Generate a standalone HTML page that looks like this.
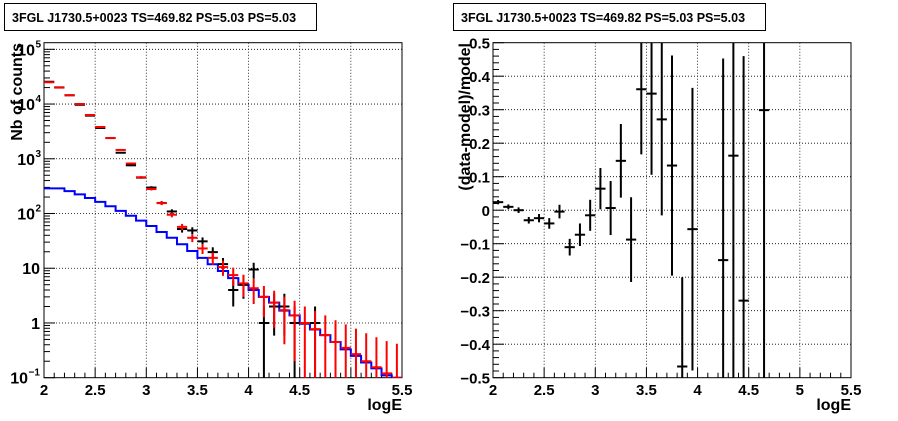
<!DOCTYPE html>
<html><head><meta charset="utf-8"><style>
html,body{margin:0;background:#fff;overflow:hidden;width:898px;height:421px;}
svg{display:block;font-family:"Liberation Sans",sans-serif;font-weight:bold;}
</style></head><body>
<svg id="c" width="898" height="421" viewBox="0 0 898 421" xmlns="http://www.w3.org/2000/svg">
<defs>
<clipPath id="clipL"><rect x="44" y="42.7" width="358" height="335"/></clipPath>
<clipPath id="clipR"><rect x="493" y="42.7" width="358" height="335"/></clipPath>
</defs>
<g>
<rect x="4.5" y="3.5" width="312" height="27" fill="#fff" stroke="#000"/>
<text x="12" y="22" font-size="12.5">3FGL J1730.5+0023 TS=469.82 PS=5.03 PS=5.03</text>
</g>
<g>
<rect x="453.5" y="3.5" width="312" height="27" fill="#fff" stroke="#000"/>
<text x="461" y="22" font-size="12.5">3FGL J1730.5+0023 TS=469.82 PS=5.03 PS=5.03</text>
</g>
<g id="L"></g>
<g id="R"></g>
</svg>
<script>
const binCenters=[2.05,2.15,2.25,2.35,2.45,2.55,2.65,2.75,2.85,2.95,3.05,3.15,3.25,3.35,3.45,3.55,3.65,3.75,3.85,3.95,4.05,4.15,4.25,4.35,4.45,4.55,4.65,4.75,4.85,4.95,5.05,5.15,5.25,5.35,5.45];
const dataCounts=[25600,20200,14500,9700,6150,3650,2390,1290,760,453,298,156,109,52,49,31,19.7,11.9,4,5,9.5,1,2,2,1,0,1,0,0,0,0,0,0,0,0];
const modelCounts=[25000,20000,14500,10000,6300,3800,2400,1450,820,460,280,155,95,57,36,23,15.5,10.5,7.5,5.3,4.3,3.0,2.35,1.72,1.37,1.0,0.77,0.6,0.45,0.35,0.27,0.2,0.155,0.12,0.1];
const blueCounts=[288,288,257,224,192,163,136,112,91,74,59,46,36,27.5,20.7,15.5,11.8,8.9,6.6,5.0,4.0,3.0,2.35,1.68,1.38,0.97,0.76,0.60,0.45,0.33,0.25,0.19,0.148,0.11,0.1];
const xTicks=["2","2.5","3","3.5","4","4.5","5","5.5"];
const yLogBase=["10","1","10","10","10","10","10"];
const yLogExp=["\u22121","","","2","3","4","5"];
const yResTicks=["\u22120.5","\u22120.4","\u22120.3","\u22120.2","\u22120.1","0","0.1","0.2","0.3","0.4","0.5"];
const NS="http://www.w3.org/2000/svg";
function mk(p,tag,at){const e=document.createElementNS(NS,tag);for(const k in at)e.setAttribute(k,at[k]);p.appendChild(e);return e;}
const XMIN=2,XMAX=5.5,TOP=42.7,BOT=377.7;
function xs(x0){return v=>x0+(v-XMIN)/(XMAX-XMIN)*358;}
const xL=xs(44),xR=xs(493);
const yL=v=>377.7-(Math.log10(v)+1)*54.73;
const yR=v=>377.7-(v+0.5)*335;

function frameAxes(g,x0,yfun,isLog){
  const x=x0===44?xL:xR;
  for(let i=1;i<xTicks.length-1;i++){const px=x(2+0.5*i);
    const gl=mk(g,'line',{x1:px,x2:px,y1:TOP,y2:BOT,stroke:'#000','stroke-dasharray':'1,2','stroke-width':0.8});
    }
  if(isLog){for(let d=1;d<yLogBase.length;d++){const py=yfun(Math.pow(10,d-1));
      const gl=mk(g,'line',{x1:x0,x2:x0+358,y1:py,y2:py,stroke:'#000','stroke-dasharray':'1,2','stroke-width':0.8});
      }
  } else {for(let d=1;d<yResTicks.length-1;d++){const py=yfun(-0.5+0.1*d);
      const gl=mk(g,'line',{x1:x0,x2:x0+358,y1:py,y2:py,stroke:'#000','stroke-dasharray':'1,2','stroke-width':0.8});
      }}
  const fr=mk(g,'rect',{x:x0,y:TOP,width:358,height:335,fill:'none',stroke:'#000','stroke-width':1});
  
  for(let k=0;k<=35;k++){const px=x(2+k*0.1);const len=(k%5===0)?10:5;
    mk(g,'line',{x1:px,x2:px,y1:BOT,y2:BOT-len,stroke:'#000'});}
  xTicks.forEach((t,i)=>{const tx=mk(g,'text',{x:x(2+0.5*i),y:395,'font-size':15,'text-anchor':'middle'});tx.textContent=t;
    });
  const xt=mk(g,'text',{x:x0+358,y:410,'font-size':16,'text-anchor':'end'});xt.textContent='logE';
  
  if(isLog){
    for(let d=0;d<yLogBase.length;d++){const base=Math.pow(10,d-1);
      mk(g,'line',{x1:x0,x2:x0+11,y1:yfun(base),y2:yfun(base),stroke:'#000'});
      for(let m=2;m<=9;m++){const py=yfun(base*m);if(py<TOP)break;mk(g,'line',{x1:x0,x2:x0+6,y1:py,y2:py,stroke:'#000'});}
      const hasExp=yLogExp[d]!=='';
      const tx=mk(g,'text',{x:hasExp?x0-(yLogExp[d].length>1?16:9):x0-4,y:yfun(base)+6,'font-size':16,'text-anchor':'end'});
      tx.textContent=yLogBase[d];
      
      if(hasExp){const ex=mk(g,'text',{x:tx.getAttribute('x')*1+0.5,y:yfun(base)-2,'font-size':10,'text-anchor':'start'});ex.textContent=yLogExp[d];
        }
    }
  } else {
    for(let k=0;k<=50;k++){const py=yfun(-0.5+k*0.02);mk(g,'line',{x1:x0,x2:x0+(k%5===0?11:6),y1:py,y2:py,stroke:'#000'});}
    yResTicks.forEach((t,i)=>{const tx=mk(g,'text',{x:x0-3,y:yfun(-0.5+0.1*i)+6,'font-size':15,'text-anchor':'end'});tx.textContent=t;
      });
  }
}
const L=document.getElementById('L'),R=document.getElementById('R');
frameAxes(L,44,yL,true);
frameAxes(R,493,yR,false);
let yt=mk(L,'text',{transform:'translate(22,43) rotate(-90)','font-size':16,'text-anchor':'end'});yt.textContent='Nb of counts';

yt=mk(R,'text',{transform:'translate(470,43) rotate(-90)','font-size':16,'text-anchor':'end'});yt.textContent='(data-model)/model';


const gL=mk(L,'g',{'clip-path':'url(#clipL)'});
const gR=mk(R,'g',{'clip-path':'url(#clipR)'});
let d='';
blueCounts.forEach((v,i)=>{const a=xL(binCenters[i]-0.05),b=xL(binCenters[i]+0.05),py=yL(v);d+=(i===0?'M':'L')+a+','+py+'L'+b+','+py;});
const bl=mk(gL,'path',{d:d,fill:'none',stroke:'#0000ff','stroke-width':2});

function cross(g,x,xa,xb,y,ylo,yhi,col,name){
  const e=mk(g,'g',{stroke:col,'stroke-width':2});
  
  mk(e,'line',{x1:xa,x2:xb,y1:y,y2:y});mk(e,'line',{x1:x,x2:x,y1:ylo,y2:yhi});
}
dataCounts.forEach((v,i)=>{if(v<=0)return;const c=binCenters[i],s=Math.sqrt(v);
  const lo=v-s>0?yL(v-s):BOT+5;
  cross(gL,xL(c),xL(c-0.05),xL(c+0.05),yL(v),lo,yL(v+s),'#000','data-point');});
modelCounts.forEach((v,i)=>{const c=binCenters[i],s=Math.sqrt(v);
  const lo=v-s>0?yL(v-s):BOT+5;
  cross(gL,xL(c),xL(c-0.05),xL(c+0.05),yL(v),lo,yL(v+s),'#ff0000','model-point');});
dataCounts.forEach((v,i)=>{if(v<=0)return;const m=modelCounts[i],r=(v-m)/m,e=Math.sqrt(v)/m,c=binCenters[i];
  if(r<-0.5||r>0.5)return;
  cross(gR,xR(c),xR(c-0.05),xR(c+0.05),yR(r),yR(r-e),yR(r+e),'#000','residual-point');});
</script>
</body></html>
